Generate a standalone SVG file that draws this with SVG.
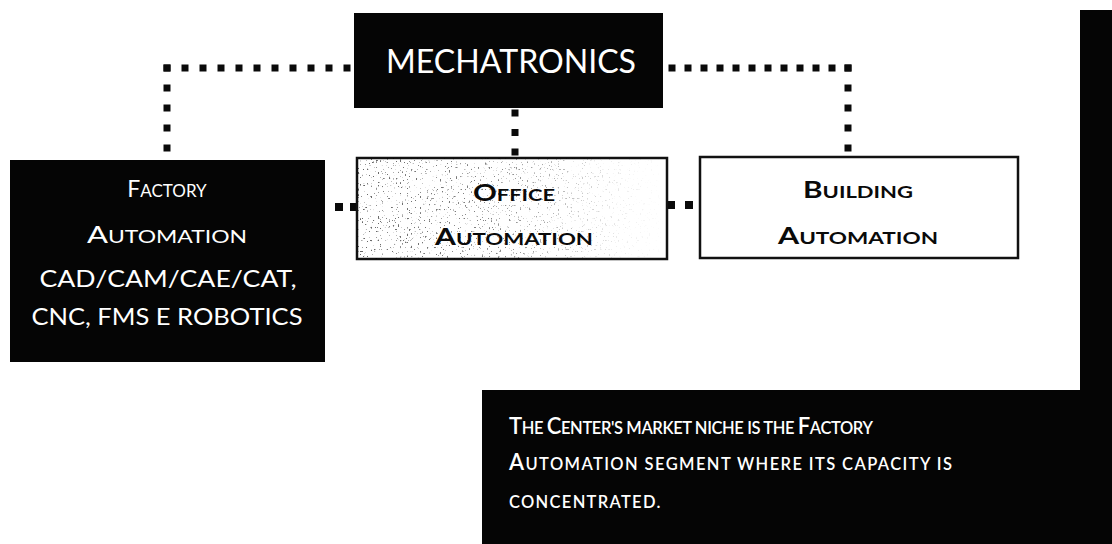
<svg xmlns="http://www.w3.org/2000/svg" width="1112" height="544" viewBox="0 0 1112 544">
  <style>
    .dark { fill: #050505; }
    .frame { fill: #ffffff; stroke: #111111; stroke-width: 2.5; }
    .dots { fill: none; stroke: #0a0a0a; stroke-width: 7; }
    .sq { fill: #0a0a0a; }
    text { font-family: Lato, "Liberation Sans", sans-serif; text-anchor: middle; }
    .w { fill: #ffffff; }
    .b { fill: #0a0a0a; font-weight: bold; }
    .note { text-anchor: start; fill: #ffffff; font-weight: 600; }
    .sc { font-size: 16.5px; }
  </style>
  <defs>
    <filter id="grain" x="0" y="0" width="100%" height="100%">
      <feTurbulence type="fractalNoise" baseFrequency="0.55" numOctaves="1" seed="7" result="n"/>
      <feColorMatrix in="n" type="matrix" values="0 0 0 0 0  0 0 0 0 0  0 0 0 0 0  14 0 0 0 -9.0"/>
    </filter>
    <linearGradient id="fade" x1="0" y1="0" x2="1" y2="0">
      <stop offset="0" stop-color="#fff" stop-opacity="1"/>
      <stop offset="0.45" stop-color="#fff" stop-opacity="0.8"/>
      <stop offset="0.85" stop-color="#fff" stop-opacity="0.15"/>
      <stop offset="1" stop-color="#fff" stop-opacity="0"/>
    </linearGradient>
    <mask id="fadeMask">
      <rect x="357" y="158" width="310" height="101" fill="url(#fade)"/>
    </mask>
  </defs>

  <rect width="1112" height="544" fill="#ffffff"/>

  <!-- page edge band and caption panel -->
  <path id="band" class="dark" d="M1080 10 H1112 V544 H482 V390 H1080 Z"/>

  <!-- dotted connectors -->
  <g id="connectors">
    <path class="dots" d="M163.5 68 H354" stroke-dasharray="7 11"/>
    <path class="dots" d="M167 64.5 V152" stroke-dasharray="7 13"/>
    <path class="dots" d="M668.5 68 H852" stroke-dasharray="7 9"/>
    <path class="dots" d="M848 64.5 V152" stroke-dasharray="7 13"/>
    <path class="dots" d="M515 109.5 V156" stroke-dasharray="7 12.5"/>
    <rect class="sq" x="335" y="203" width="8" height="8"/>
    <rect class="sq" x="350" y="203" width="7" height="8"/>
    <rect class="sq" x="667" y="201" width="8" height="8"/>
    <rect class="sq" x="685" y="201" width="8" height="8"/>
  </g>

  <g id="mechatronics">
    <rect class="dark" x="354" y="13" width="309" height="95"/>
    <text class="w" x="511" y="73" font-size="32" textLength="250" lengthAdjust="spacingAndGlyphs">MECHATRONICS</text>
  </g>

  <g id="factory">
    <rect class="dark" x="10" y="160" width="315" height="202"/>
    <text class="w" x="167" y="197" font-size="23">F<tspan font-size="17">ACTORY</tspan></text>
    <text class="w" x="167" y="243" font-size="23" textLength="160" lengthAdjust="spacingAndGlyphs">A<tspan font-size="17">UTOMATION</tspan></text>
    <text class="w" x="168" y="287" font-size="24" textLength="257" lengthAdjust="spacingAndGlyphs">CAD/CAM/CAE/CAT,</text>
    <text class="w" x="167" y="325" font-size="24" textLength="271" lengthAdjust="spacingAndGlyphs">CNC, FMS E ROBOTICS</text>
  </g>

  <g id="office">
    <rect class="frame" x="357" y="158" width="310" height="101"/>
    <rect x="357" y="158" width="310" height="101" fill="#000" opacity="0.6" filter="url(#grain)" mask="url(#fadeMask)"/>
    <text class="b" x="514" y="201" font-size="23" textLength="82" lengthAdjust="spacingAndGlyphs">O<tspan font-size="17">FFICE</tspan></text>
    <text class="b" x="514" y="245" font-size="23" textLength="158" lengthAdjust="spacingAndGlyphs">A<tspan font-size="17">UTOMATION</tspan></text>
  </g>

  <g id="building">
    <rect class="frame" x="700" y="157" width="318" height="101"/>
    <text class="b" x="858" y="198" font-size="23" textLength="110" lengthAdjust="spacingAndGlyphs">B<tspan font-size="17">UILDING</tspan></text>
    <text class="b" x="858" y="244" font-size="23" textLength="160" lengthAdjust="spacingAndGlyphs">A<tspan font-size="17">UTOMATION</tspan></text>
  </g>

  <g id="caption">
    <text class="note" x="509" y="434" font-size="22" letter-spacing="-0.4">T<tspan class="sc">HE </tspan>C<tspan class="sc">ENTER'S MARKET NICHE IS THE </tspan>F<tspan class="sc">ACTORY</tspan></text>
    <text class="note" x="509" y="470" font-size="22" letter-spacing="1.4">A<tspan class="sc">UTOMATION SEGMENT WHERE ITS CAPACITY IS</tspan></text>
    <text class="note" x="509" y="508" font-size="16.5" letter-spacing="1.3">CONCENTRATED.</text>
  </g>
</svg>
